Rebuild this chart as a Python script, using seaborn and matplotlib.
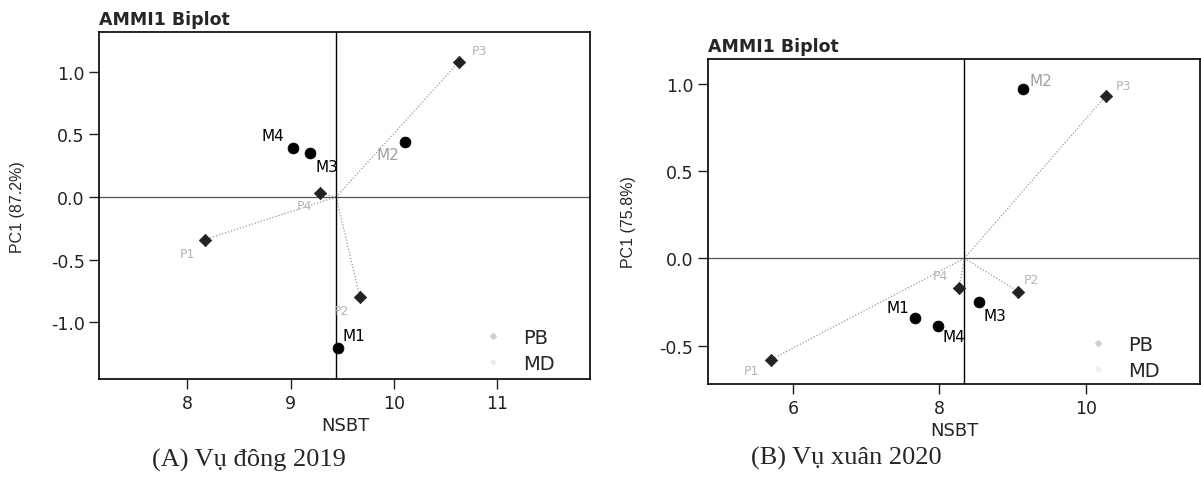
import matplotlib
matplotlib.use("Agg")
import matplotlib.pyplot as plt
import seaborn as sns
import pandas as pd
from matplotlib.lines import Line2D

# ---- data: panel A (Vu dong 2019) ----
a_env = ["P1", "P2", "P3", "P4"]
a_env_x = [8.17, 9.67, 10.63, 9.28]
a_env_y = [-0.34, -0.80, 1.08, 0.03]
a_gen = ["M1", "M2", "M3", "M4"]
a_gen_x = [9.46, 10.11, 9.19, 9.02]
a_gen_y = [-1.21, 0.44, 0.35, 0.39]
a_mean = 9.44
a_pc = 87.2

# ---- data: panel B (Vu xuan 2020) ----
b_env = ["P1", "P2", "P3", "P4"]
b_env_x = [5.70, 9.08, 10.27, 8.27]
b_env_y = [-0.58, -0.19, 0.93, -0.17]
b_gen = ["M1", "M2", "M3", "M4"]
b_gen_x = [7.67, 9.14, 8.54, 7.98]
b_gen_y = [-0.34, 0.97, -0.25, -0.39]
b_mean = 8.34
b_pc = 75.8

sns.set_style("white")
plt.rcParams['font.family'] = ['DejaVu Sans']

GREY = "#9a9a9a"


def draw_panel(ax, env, ex, ey, gen, gx, gy, mean, pc, env_off, gen_off,
               xlim, ylim, xticks, yticks, ylabelpad, leg_anchor):
    # environment vectors from the origin (grand mean, 0)
    for x, y in zip(ex, ey):
        ax.plot([mean, x], [0, y], color=GREY, linestyle=(0, (1, 1.5)), linewidth=0.9, zorder=1)
    ax.axhline(0, color="#555555", linewidth=0.9, zorder=1)
    ax.axvline(mean, color="black", linewidth=1.0, zorder=1)

    env_df = pd.DataFrame({"NSBT": ex, "PC1": ey, "name": env})
    gen_df = pd.DataFrame({"NSBT": gx, "PC1": gy, "name": gen})
    sns.scatterplot(data=env_df, x="NSBT", y="PC1", marker="D", s=40, color="#222222",
                    edgecolor="#222222", linewidth=0.5, ax=ax, zorder=3, legend=False)
    sns.scatterplot(data=gen_df, x="NSBT", y="PC1", marker="o", s=60, color="black",
                    edgecolor="black", ax=ax, zorder=3, legend=False)

    for name, x, y in zip(env, ex, ey):
        dx, dy = env_off[name]
        ax.text(x + dx, y + dy, name, fontsize=9, color="#b5b5b5", ha="center", va="center")
    for name, x, y in zip(gen, gx, gy):
        dx, dy = gen_off[name]
        col = "#a0a0a0" if name == "M2" else "black"
        ax.text(x + dx, y + dy, name, fontsize=11, color=col, ha="center", va="center")

    ax.set_xlim(*xlim)
    ax.set_ylim(*ylim)
    ax.set_xticks(xticks)
    ax.set_yticks(yticks)
    ax.set_yticklabels([f"{t:.1f}" for t in yticks])
    ax.tick_params(axis="both", direction="out", length=7, width=1, labelsize=12.5,
                   left=True, bottom=True, colors="#222222")
    for sp in ax.spines.values():
        sp.set_visible(True)
        sp.set_color("black")
        sp.set_linewidth(1.2)
    ax.set_xlabel("NSBT", fontsize=13, labelpad=3)
    ax.set_ylabel(f"PC1 ({pc}%)", fontsize=11.5, labelpad=ylabelpad,
                  family=["Liberation Sans", "DejaVu Sans"])
    ax.set_title("AMMI1 Biplot", loc="left", fontsize=12.5, fontweight="bold", pad=6)

    handles = [Line2D([], [], marker="D", linestyle="", color="#d0d0d0", markersize=3),
               Line2D([], [], marker="o", linestyle="", color="#eeeeee", markersize=3)]
    ax.legend(handles, ["PB", "MD"], loc="lower left", bbox_to_anchor=leg_anchor,
              frameon=False, fontsize=14, handlelength=1.5, handletextpad=0.8,
              labelspacing=0.35, borderpad=0, borderaxespad=0)


fig = plt.figure(figsize=(12.01, 4.81), dpi=100)
ax1 = fig.add_axes([0.0828, 0.21, 0.4088, 0.7208])
ax2 = fig.add_axes([0.5895, 0.1996, 0.4097, 0.6757])

draw_panel(ax1, a_env, a_env_x, a_env_y, a_gen, a_gen_x, a_gen_y, a_mean, a_pc,
           {"P1": (-0.17, -0.11), "P2": (-0.18, -0.11), "P3": (0.2, 0.09), "P4": (-0.15, -0.10)},
           {"M1": (0.15, 0.10), "M2": (-0.17, -0.10), "M3": (0.16, -0.11), "M4": (-0.19, 0.10)},
           (7.15, 11.9), (-1.454, 1.315), [8, 9, 10, 11], [-1.0, -0.5, 0.0, 0.5, 1.0],
           19, (0.772, 0.017))

draw_panel(ax2, b_env, b_env_x, b_env_y, b_gen, b_gen_x, b_gen_y, b_mean, b_pc,
           {"P1": (-0.26, -0.06), "P2": (0.18, 0.07), "P3": (0.24, 0.06), "P4": (-0.26, 0.07)},
           {"M1": (-0.24, 0.06), "M2": (0.24, 0.05), "M3": (0.22, -0.08), "M4": (0.22, -0.06)},
           (4.84, 11.56), (-0.72, 1.143), [6, 8, 10], [-0.5, 0.0, 0.5, 1.0],
           17, (0.763, 0.012))

fig.text(0.207, 0.043, "(A) Vụ đông 2019", fontsize=19, family=["Liberation Serif", "DejaVu Serif"],
         ha="center", va="center")
fig.text(0.705, 0.047, "(B) Vụ xuân 2020", fontsize=19, family=["Liberation Serif", "DejaVu Serif"],
         ha="center", va="center")

fig.savefig("out.png", dpi=100)
